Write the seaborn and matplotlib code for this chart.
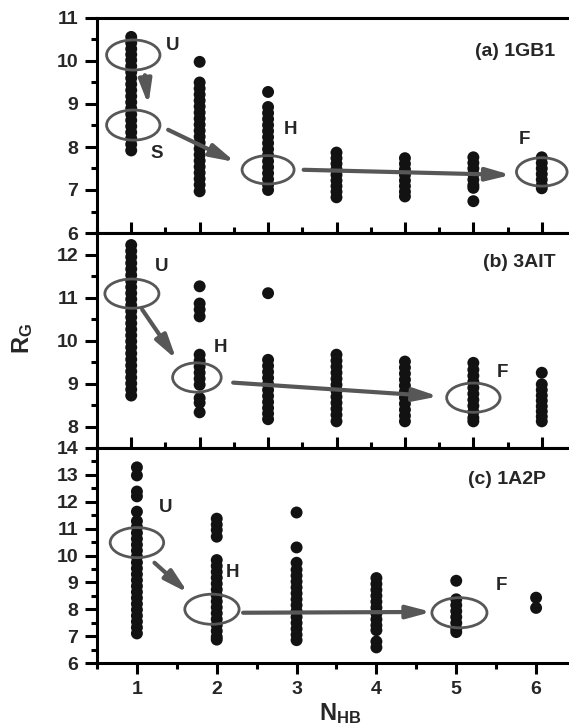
import numpy as np
import pandas as pd
import matplotlib
matplotlib.use("Agg")
import matplotlib.pyplot as plt
import seaborn as sns
from matplotlib.patches import Ellipse
from matplotlib.ticker import MultipleLocator

sns.set_theme(style="ticks")
plt.rcParams["font.family"] = ["Liberation Sans", "DejaVu Sans"]
plt.rcParams["font.weight"] = "bold"
plt.rcParams["mathtext.fontset"] = "custom"
plt.rcParams["mathtext.bf"] = "Liberation Sans:bold"
plt.rcParams["mathtext.rm"] = "Liberation Sans:bold"


# data: one list of R_G values per N_HB column

gb1_nhb = [1, 2, 3, 4, 5, 6, 7]
gb1_rg = [
    [10.56, 10.42, 10.28, 10.15, 10.02, 9.88, 9.74, 9.6, 9.46, 9.32, 9.18, 9.04,
     8.9, 8.76, 8.62, 8.48, 8.34, 8.2, 8.06, 7.92],
    [9.98, 9.5, 9.36, 9.22, 9.08, 8.94, 8.8, 8.66, 8.52, 8.38, 8.24, 8.1, 7.96,
     7.82, 7.68, 7.54, 7.4, 7.26, 7.12, 6.97],
    [9.28, 8.93, 8.79, 8.65, 8.51, 8.37, 8.23, 8.09, 7.95, 7.81, 7.67, 7.53,
     7.39, 7.25, 7.12, 7.0],
    [7.87, 7.74, 7.61, 7.48, 7.35, 7.22, 7.09, 6.96, 6.83],
    [7.74, 7.61, 7.48, 7.35, 7.22, 7.09, 6.96, 6.85],
    [7.76, 7.63, 7.5, 7.37, 7.24, 7.11, 7.05, 6.74],
    [7.76, 7.63, 7.5, 7.37, 7.24, 7.11, 7.04],
]

ait_nhb = [1, 2, 3, 4, 5, 6, 7]
ait_rg = [
    [12.22, 12.08, 11.94, 11.8, 11.66, 11.52, 11.38, 11.24, 11.1, 10.96, 10.82,
     10.68, 10.54, 10.4, 10.26, 10.12, 9.98, 9.84, 9.7, 9.56, 9.42, 9.28, 9.14,
     9.0, 8.86, 8.72],
    [11.26, 10.86, 10.72, 10.56, 9.67, 9.53, 9.39, 9.25, 9.11, 8.97, 8.66, 8.55,
     8.33],
    [11.1, 9.55, 9.41, 9.27, 9.13, 8.99, 8.85, 8.71, 8.57, 8.43, 8.3, 8.17],
    [9.67, 9.53, 9.39, 9.25, 9.11, 8.97, 8.83, 8.69, 8.55, 8.41, 8.27, 8.12],
    [9.51, 9.37, 9.23, 9.09, 8.95, 8.81, 8.67, 8.53, 8.39, 8.25, 8.12],
    [9.48, 9.32, 9.18, 9.04, 8.9, 8.76, 8.62, 8.48, 8.34, 8.2, 8.12],
    [9.25, 8.98, 8.85, 8.72, 8.6, 8.47, 8.35, 8.23, 8.12],
]

a2p_nhb = [1, 2, 3, 4, 5, 6]
a2p_rg = [
    [13.28, 12.98, 12.38, 12.2, 11.63, 11.28, 11.06, 10.84, 10.62, 10.4, 10.18,
     9.96, 9.74, 9.52, 9.3, 9.08, 8.86, 8.64, 8.42, 8.2, 7.98, 7.76, 7.54, 7.32,
     7.1],
    [11.37, 11.15, 10.95, 10.7, 9.83, 9.61, 9.39, 9.17, 8.95, 8.73, 8.51, 8.29,
     8.07, 7.85, 7.63, 7.41, 7.19, 6.97, 6.87],
    [11.6, 10.3, 9.73, 9.47, 9.25, 9.03, 8.81, 8.59, 8.37, 8.15, 7.93, 7.71,
     7.49, 7.27, 7.05, 6.85],
    [9.16, 8.94, 8.72, 8.5, 8.28, 8.06, 7.84, 7.62, 7.4, 7.22, 6.8, 6.58],
    [9.06, 8.37, 8.15, 7.93, 7.71, 7.49, 7.27, 7.15],
    [8.43, 8.05],
]

DOT = "#121212"
GREY = "#575757"


def column_frame(nhb, rg):
    counts = [len(c) for c in rg]
    return pd.DataFrame({"nhb": np.repeat(nhb, counts), "rg": np.concatenate(rg)})


def oval(ax, x, y, w, h):
    ax.add_patch(Ellipse((x, y), w, h, fill=False, edgecolor=GREY, lw=2.0, zorder=3))


def arrow(ax, x0, y0, x1, y1):
    ax.annotate("", xy=(x1, y1), xytext=(x0, y0),
                arrowprops=dict(arrowstyle="-|>,head_length=1.2,head_width=0.32",
                                color=GREY, lw=3, shrinkA=0, shrinkB=0,
                                mutation_scale=12), zorder=4)


def tag(ax, x, y, s):
    ax.text(x, y, s, fontsize=13.5, fontweight="bold", ha="center", va="center")


fig = plt.figure(figsize=(5.69, 7.28), dpi=100)
left, width, h = 97 / 569, 479 / 569, 215 / 728
ax_a = fig.add_axes([left, 1 - 233 / 728, width, h])
ax_b = fig.add_axes([left, 1 - 448 / 728, width, h])
ax_c = fig.add_axes([left, 1 - 663 / 728, width, h])

panels = [(ax_a, gb1_nhb, gb1_rg), (ax_b, ait_nhb, ait_rg), (ax_c, a2p_nhb, a2p_rg)]
for ax, nhb, rg in panels:
    sns.scatterplot(data=column_frame(nhb, rg), x="nhb", y="rg", ax=ax,
                    color=DOT, s=74, edgecolor="none", legend=False, zorder=2)
    ax.set_xlabel("")
    ax.set_ylabel("")
    for sp in ax.spines.values():
        sp.set_linewidth(2.2)
        sp.set_color("black")
    ax.xaxis.set_major_locator(MultipleLocator(1))
    ax.xaxis.set_minor_locator(MultipleLocator(0.5))
    ax.yaxis.set_major_locator(MultipleLocator(1))
    ax.yaxis.set_minor_locator(MultipleLocator(0.5))
    ax.tick_params(axis="y", which="major", direction="out", length=8.5, width=2.2,
                   labelsize=14, pad=5, color="black")
    ax.tick_params(axis="y", which="minor", direction="out", length=4.5, width=2.2,
                   color="black", left=True)
    for lab in ax.get_yticklabels():
        lab.set_fontweight("bold")

# top two panels share a 0.5-7.5 range with inward ticks, no labels
for ax in (ax_a, ax_b):
    ax.set_xlim(0.5, 7.5)
    ax.tick_params(axis="x", which="major", direction="in", length=8, width=2.2,
                   labelbottom=False, color="black", bottom=True)
    ax.tick_params(axis="x", which="minor", direction="in", length=4, width=2.2,
                   color="black", bottom=True)

ax_c.set_xlim(0.5, 6.5)
ax_c.tick_params(axis="x", which="major", direction="out", length=8, width=2.2,
                 labelsize=14, pad=5, color="black")
ax_c.tick_params(axis="x", which="minor", direction="out", length=4, width=2.2,
                 color="black", bottom=True)
for lab in ax_c.get_xticklabels():
    lab.set_fontweight("bold")

ax_a.set_ylim(6, 11)
ax_b.set_ylim(7.5, 12.5)
ax_c.set_ylim(6, 14)

# (a) 1GB1
oval(ax_a, 1.03, 10.14, 0.78, 0.70)
oval(ax_a, 1.03, 8.51, 0.78, 0.70)
oval(ax_a, 3.0, 7.47, 0.76, 0.66)
oval(ax_a, 7.0, 7.42, 0.74, 0.66)
arrow(ax_a, 1.2, 9.67, 1.25, 8.98)
arrow(ax_a, 1.54, 8.4, 2.52, 7.65)
arrow(ax_a, 3.52, 7.47, 6.55, 7.35)
tag(ax_a, 1.61, 10.37, "U")
tag(ax_a, 1.38, 7.86, "S")
tag(ax_a, 3.33, 8.4, "H")
tag(ax_a, 6.74, 8.18, "F")
ax_a.text(7.2, 10.21, "(a) 1GB1", fontsize=14, fontweight="bold", ha="right", va="center")

# (b) 3AIT
oval(ax_b, 1.01, 11.09, 0.79, 0.68)
oval(ax_b, 1.96, 9.14, 0.71, 0.68)
oval(ax_b, 6.0, 8.67, 0.78, 0.68)
arrow(ax_b, 1.16, 10.72, 1.66, 9.56)
arrow(ax_b, 2.49, 9.02, 5.49, 8.7)
tag(ax_b, 1.45, 11.72, "U")
tag(ax_b, 2.3, 9.84, "H")
tag(ax_b, 6.43, 9.26, "F")
ax_b.text(7.2, 11.81, "(b) 3AIT", fontsize=14, fontweight="bold", ha="right", va="center")

# (c) 1A2P
oval(ax_c, 1.0, 10.48, 0.67, 1.12)
oval(ax_c, 1.94, 8.0, 0.68, 1.12)
oval(ax_c, 5.04, 7.87, 0.69, 1.12)
arrow(ax_c, 1.22, 9.73, 1.64, 8.61)
arrow(ax_c, 2.33, 7.87, 4.69, 7.9)
tag(ax_c, 1.36, 11.8, "U")
tag(ax_c, 2.2, 9.36, "H")
tag(ax_c, 5.56, 8.9, "F")
ax_c.text(6.125, 12.83, "(c) 1A2P", fontsize=14, fontweight="bold", ha="right", va="center")

fig.text(23 / 569, 1 - 338 / 728, r"$\mathbf{R_G}$", rotation=90, fontsize=17,
         ha="center", va="center")
fig.text(340 / 569, 1 - 714 / 728, r"$\mathbf{N_{HB}}$", fontsize=17,
         ha="center", va="center")

fig.savefig("out.png", dpi=100)
